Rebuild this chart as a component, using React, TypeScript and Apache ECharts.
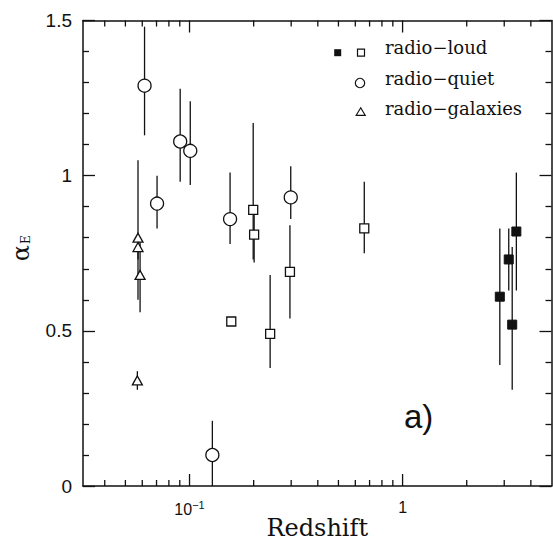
import React, { useEffect, useRef } from 'react';
import * as echarts from 'echarts';

// Axis ranges
const X_MIN = 0.0316227766;
const X_MAX = 5;
const Y_MIN = 0;
const Y_MAX = 1.5;

// Tick positions on the log redshift axis
const xMajorTicks = [0.1, 1];
const xMinorTicks = [0.04, 0.05, 0.06, 0.07, 0.08, 0.09, 0.2, 0.3, 0.4, 0.5, 0.6, 0.7, 0.8, 0.9, 2, 3, 4];

// radio-quiet (open circles)
const quietZ = [0.0615, 0.0904, 0.1008, 0.0704, 0.155, 0.2986, 0.128];
const quietA = [1.29, 1.11, 1.08, 0.91, 0.86, 0.93, 0.1];
const quietLo = [1.13, 0.98, 0.97, 0.83, 0.78, 0.86, 0.0];
const quietHi = [1.48, 1.28, 1.24, 1.0, 1.01, 1.03, 0.21];

// radio-loud (open squares)
const loudOpenZ = [0.199, 0.201, 0.157, 0.239, 0.296, 0.661];
const loudOpenA = [0.89, 0.81, 0.53, 0.49, 0.69, 0.83];
const loudOpenLo = [0.73, 0.72, 0.52, 0.38, 0.54, 0.75];
const loudOpenHi = [1.17, 0.9, 0.54, 0.68, 0.84, 0.98];

// radio-loud (filled squares)
const loudFilledZ = [2.86, 3.15, 3.42, 3.27];
const loudFilledA = [0.61, 0.73, 0.82, 0.52];
const loudFilledLo = [0.39, 0.63, 0.63, 0.31];
const loudFilledHi = [0.83, 0.83, 1.01, 0.77];

// radio-galaxies (open triangles)
const galZ = [0.0573, 0.0573, 0.0586, 0.0569];
const galA = [0.8, 0.77, 0.68, 0.34];
const galLo = [0.6, 0.73, 0.56, 0.31];
const galHi = [1.05, 0.8, 0.79, 0.37];

const INK = '#111';

function pts(z: number[], a: number[]) {
  return z.map((v, i) => [v, a[i]]);
}
function bars(z: number[], lo: number[], hi: number[]) {
  return z.map((v, i) => [v, lo[i], hi[i]]);
}

export default function App() {
  const ref = useRef<HTMLDivElement>(null);

  useEffect(() => {
    if (!ref.current) return;
    const chart = echarts.init(ref.current, undefined, { renderer: 'svg' });

    const errData = [
      ...bars(quietZ, quietLo, quietHi),
      ...bars(loudOpenZ, loudOpenLo, loudOpenHi),
      ...bars(loudFilledZ, loudFilledLo, loudFilledHi),
      ...bars(galZ, galLo, galHi),
    ];

    const tickData = [
      ...xMajorTicks.map((v) => [v, Y_MIN, 12]),
      ...xMinorTicks.map((v) => [v, Y_MIN, 6]),
    ];

    const xAxisCommon = {
      type: 'log' as const,
      logBase: 10,
      min: X_MIN,
      max: X_MAX,
      splitLine: { show: false },
      axisLine: { show: true, onZero: false, lineStyle: { color: INK, width: 1.5 } },
      axisTick: { show: false },
    };
    const yAxisCommon = {
      type: 'value' as const,
      min: Y_MIN,
      max: Y_MAX,
      interval: 0.5,
      splitLine: { show: false },
      axisLine: { show: true, onZero: false, lineStyle: { color: INK, width: 1.5 } },
      axisTick: { show: true, inside: true, length: 12, lineStyle: { color: INK, width: 1.3 } },
      minorTick: { show: true, splitNumber: 5, length: 6, lineStyle: { color: INK, width: 1.3 } },
      minorSplitLine: { show: false },
    };

    const option: any = {
      animation: false,
      backgroundColor: '#fff',
      grid: { left: 83, right: 1.5, top: 20.5, bottom: 57, containLabel: false, outerBoundsMode: 'none' },
      xAxis: [
        {
          ...xAxisCommon,
          position: 'bottom',
          name: 'Redshift',
          nameLocation: 'middle',
          nameGap: 30,
          nameMoveOverlap: false,
          nameTextStyle: { fontFamily: 'DejaVu Serif', fontSize: 24, lineHeight: 24, color: INK },
          axisLabel: {
            show: true,
            margin: 13,
            color: INK,
            fontFamily: 'Liberation Sans',
            fontSize: 16,
            showMinLabel: false,
            showMaxLabel: false,
            formatter: (v: number) => {
              if (Math.abs(v - 0.1) < 1e-6) return '{b|10}{s|−1}';
              if (Math.abs(v - 1) < 1e-6) return '1';
              return '';
            },
            rich: {
              b: { fontFamily: 'Liberation Sans', fontSize: 16, color: INK },
              s: { fontFamily: 'Liberation Sans', fontSize: 11, color: INK, padding: [0, 0, 9, 0] },
            },
          },
        },
        {
          ...xAxisCommon,
          position: 'top',
          axisLabel: { show: false },
        },
      ],
      yAxis: [
        {
          ...yAxisCommon,
          position: 'left',
          name: '{a|α}{e|E}',
          nameLocation: 'middle',
          nameRotate: 90,
          nameGap: 50,
          nameMoveOverlap: false,
          nameTextStyle: {
            padding: [0, 0, 0, 10],
            rich: {
              a: { fontFamily: 'DejaVu Serif', fontSize: 24, color: INK },
              e: { fontFamily: 'DejaVu Serif', fontSize: 12, color: INK, padding: [10, 0, 0, 1] },
            },
          },
          axisLabel: {
            show: true,
            margin: 11,
            color: INK,
            fontFamily: 'Liberation Sans',
            fontSize: 19,
            formatter: (v: number) => String(v),
          },
        },
        {
          ...yAxisCommon,
          position: 'right',
          axisLabel: { show: false },
        },
      ],
      graphic: [
        // legend
        { type: 'rect', shape: { x: 334.2, y: 49.2, width: 7, height: 7 }, style: { fill: INK } },
        { type: 'rect', shape: { x: 357.5, y: 49.2, width: 7, height: 7 }, style: { fill: '#fff', stroke: INK, lineWidth: 1.2 } },
        { type: 'circle', shape: { cx: 360, cy: 83, r: 4.7 }, style: { fill: '#fff', stroke: INK, lineWidth: 1.2 } },
        {
          type: 'polygon',
          shape: { points: [[360.7, 107.8], [365.2, 115.3], [356.2, 115.3]] },
          style: { fill: '#fff', stroke: INK, lineWidth: 1.2 },
        },
        { type: 'text', x: 385, y: 47, style: { text: 'radio−loud', fontFamily: 'DejaVu Serif', fontSize: 18, fill: INK, verticalAlign: 'middle' } },
        { type: 'text', x: 385, y: 78, style: { text: 'radio−quiet', fontFamily: 'DejaVu Serif', fontSize: 18, fill: INK, verticalAlign: 'middle' } },
        { type: 'text', x: 385, y: 108, style: { text: 'radio−galaxies', fontFamily: 'DejaVu Serif', fontSize: 18, fill: INK, verticalAlign: 'middle' } },
        // panel label
        { type: 'text', x: 404, y: 416, style: { text: 'a)', fontFamily: 'Liberation Sans', fontSize: 33, fill: INK, verticalAlign: 'middle' } },
      ],
      series: [
        {
          type: 'custom',
          name: 'x ticks',
          xAxisIndex: 0,
          yAxisIndex: 0,
          silent: true,
          clip: false,
          data: tickData,
          encode: { x: 0, y: 1 },
          renderItem: (params: any, api: any) => {
            const len = api.value(2);
            const b = api.coord([api.value(0), Y_MIN]);
            const t = api.coord([api.value(0), Y_MAX]);
            return {
              type: 'group',
              children: [
                { type: 'line', shape: { x1: b[0], y1: b[1], x2: b[0], y2: b[1] - len }, style: { stroke: INK, lineWidth: 1.3 } },
                { type: 'line', shape: { x1: t[0], y1: t[1], x2: t[0], y2: t[1] + len }, style: { stroke: INK, lineWidth: 1.3 } },
              ],
            };
          },
          z: 1,
        },
        {
          type: 'custom',
          name: 'error bars',
          xAxisIndex: 0,
          yAxisIndex: 0,
          silent: true,
          data: errData,
          encode: { x: 0, y: [1, 2] },
          renderItem: (params: any, api: any) => {
            const p1 = api.coord([api.value(0), api.value(1)]);
            const p2 = api.coord([api.value(0), api.value(2)]);
            return {
              type: 'line',
              shape: { x1: p1[0], y1: p1[1], x2: p2[0], y2: p2[1] },
              style: { stroke: INK, lineWidth: 1.3 },
            };
          },
          z: 2,
        },
        {
          type: 'scatter',
          name: 'radio-quiet',
          data: pts(quietZ, quietA),
          symbol: 'circle',
          symbolSize: 13,
          itemStyle: { color: '#fff', borderColor: INK, borderWidth: 1.3, opacity: 1 },
          z: 3,
        },
        {
          type: 'scatter',
          name: 'radio-loud',
          data: pts(loudOpenZ, loudOpenA),
          symbol: 'rect',
          symbolSize: 9,
          itemStyle: { color: '#fff', borderColor: INK, borderWidth: 1.3, opacity: 1 },
          z: 3,
        },
        {
          type: 'scatter',
          name: 'radio-loud (filled)',
          data: pts(loudFilledZ, loudFilledA),
          symbol: 'rect',
          symbolSize: 9,
          itemStyle: { color: INK, borderColor: INK, borderWidth: 1, opacity: 1 },
          z: 3,
        },
        {
          type: 'scatter',
          name: 'radio-galaxies',
          data: pts(galZ, galA),
          symbol: 'triangle',
          symbolSize: [10, 9],
          itemStyle: { color: '#fff', borderColor: INK, borderWidth: 1.3, opacity: 1 },
          z: 3,
        },
      ],
    };

    chart.setOption(option);
    return () => chart.dispose();
  }, []);

  return (
    <div
      ref={ref}
      style={{ position: 'fixed', left: 0, top: 0, width: 553, height: 543, background: '#fff' }}
    />
  );
}
